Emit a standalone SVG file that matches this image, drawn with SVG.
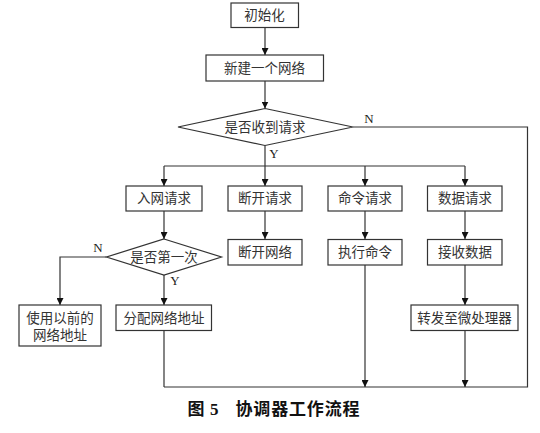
<svg xmlns="http://www.w3.org/2000/svg" width="540" height="433" viewBox="0 0 540 433">
<style>
.box{fill:#fff;stroke:#333;stroke-width:1.2}
.ln{fill:none;stroke:#333;stroke-width:1.2}
.t{font-family:"Liberation Serif","Noto Sans CJK SC",serif;font-size:13.5px;fill:#333;text-anchor:middle;dominant-baseline:central}
.lbl{font-family:"Liberation Serif","Noto Sans CJK SC",serif;font-size:13px;fill:#222;text-anchor:middle;dominant-baseline:central}
.cap{font-family:"Liberation Serif","Noto Sans CJK SC",serif;font-size:17px;fill:#111;font-weight:bold;dominant-baseline:central}
</style>
<defs>
<marker id="ah" viewBox="0 0 8 8" refX="8" refY="4" markerWidth="7" markerHeight="7" markerUnits="userSpaceOnUse" orient="auto">
<path d="M0,0 L8,4 L0,8 Z" fill="#111"/>
</marker>
</defs>
<rect width="540" height="433" fill="#fff"/>
<g id="connectors">
<line class="ln" x1="265" y1="27" x2="265" y2="55" marker-end="url(#ah)"/>
<line class="ln" x1="265" y1="81" x2="265" y2="108.5" marker-end="url(#ah)"/>
<polyline class="ln" points="265,145.5 265,166"/>
<line class="ln" x1="164" y1="166" x2="465" y2="166"/>
<line class="ln" x1="164" y1="166" x2="164" y2="186" marker-end="url(#ah)"/>
<line class="ln" x1="265" y1="166" x2="265" y2="186" marker-end="url(#ah)"/>
<line class="ln" x1="365" y1="166" x2="365" y2="186" marker-end="url(#ah)"/>
<line class="ln" x1="465" y1="166" x2="465" y2="186" marker-end="url(#ah)"/>
<polyline class="ln" points="353,127 527.5,127 527.5,387 164,387"/>
<line class="ln" x1="164" y1="330.5" x2="164" y2="387"/>
<line class="ln" x1="164" y1="211" x2="164" y2="239" marker-end="url(#ah)"/>
<line class="ln" x1="265" y1="211" x2="265" y2="239" marker-end="url(#ah)"/>
<line class="ln" x1="365" y1="211" x2="365" y2="239" marker-end="url(#ah)"/>
<line class="ln" x1="465" y1="211" x2="465" y2="239" marker-end="url(#ah)"/>
<line class="ln" x1="465" y1="265" x2="465" y2="305" marker-end="url(#ah)"/>
<line class="ln" x1="365" y1="265" x2="365" y2="387" marker-end="url(#ah)"/>
<line class="ln" x1="465" y1="330.5" x2="465" y2="387" marker-end="url(#ah)"/>
<polyline class="ln" points="106.5,257 60,257 60,305" marker-end="url(#ah)"/>
<line class="ln" x1="164" y1="275" x2="164" y2="305" marker-end="url(#ah)"/>
<text class="lbl" x="369" y="118">N</text>
<text class="lbl" x="274" y="153">Y</text>
<text class="lbl" x="98" y="247">N</text>
<text class="lbl" x="175" y="280">Y</text>
</g>
<g id="init"><rect class="box" x="231" y="3" width="67.5" height="24.5"/><text class="t" x="264.5" y="15.5">初始化</text></g>
<g id="newnet"><rect class="box" x="206" y="55" width="117.5" height="26"/><text class="t" x="264.5" y="68">新建一个网络</text></g>
<g id="recv"><polygon class="box" points="265,108.5 353,127 265,145.5 178,127"/><text class="t" x="265" y="127">是否收到请求</text></g>
<g id="join"><rect class="box" x="126" y="186" width="76" height="25"/><text class="t" x="164" y="198.5">入网请求</text></g>
<g id="disc"><rect class="box" x="228" y="186" width="74" height="25"/><text class="t" x="265" y="198.5">断开请求</text></g>
<g id="cmd"><rect class="box" x="328" y="186" width="74" height="25"/><text class="t" x="365" y="198.5">命令请求</text></g>
<g id="data"><rect class="box" x="427.5" y="186" width="74.5" height="25"/><text class="t" x="465" y="198.5">数据请求</text></g>
<g id="first"><polygon class="box" points="164,239 221.5,257 164,275 106.5,257"/><text class="t" x="164" y="257">是否第一次</text></g>
<g id="discnet"><rect class="box" x="228" y="239.5" width="74" height="25.5"/><text class="t" x="265" y="252">断开网络</text></g>
<g id="exec"><rect class="box" x="328" y="239.5" width="74" height="25.5"/><text class="t" x="365" y="252">执行命令</text></g>
<g id="rx"><rect class="box" x="427.5" y="239.5" width="74.5" height="25.5"/><text class="t" x="465" y="252">接收数据</text></g>
<g id="prev"><rect class="box" x="19" y="305" width="82" height="41"/><text class="t" x="60" y="318">使用以前的</text><text class="t" x="60" y="335">网络地址</text></g>
<g id="assign"><rect class="box" x="116" y="305" width="95.5" height="25.5"/><text class="t" x="164" y="318">分配网络地址</text></g>
<g id="fwd"><rect class="box" x="411" y="305" width="107" height="25.5"/><text class="t" x="464.5" y="318">转发至微处理器</text></g>
<g id="caption"><text class="cap" x="187.5" y="409">图</text><text class="cap" x="210" y="409">5</text><text class="cap" x="235.5" y="409" textLength="124" lengthAdjust="spacing">协调器工作流程</text></g>
</svg>
